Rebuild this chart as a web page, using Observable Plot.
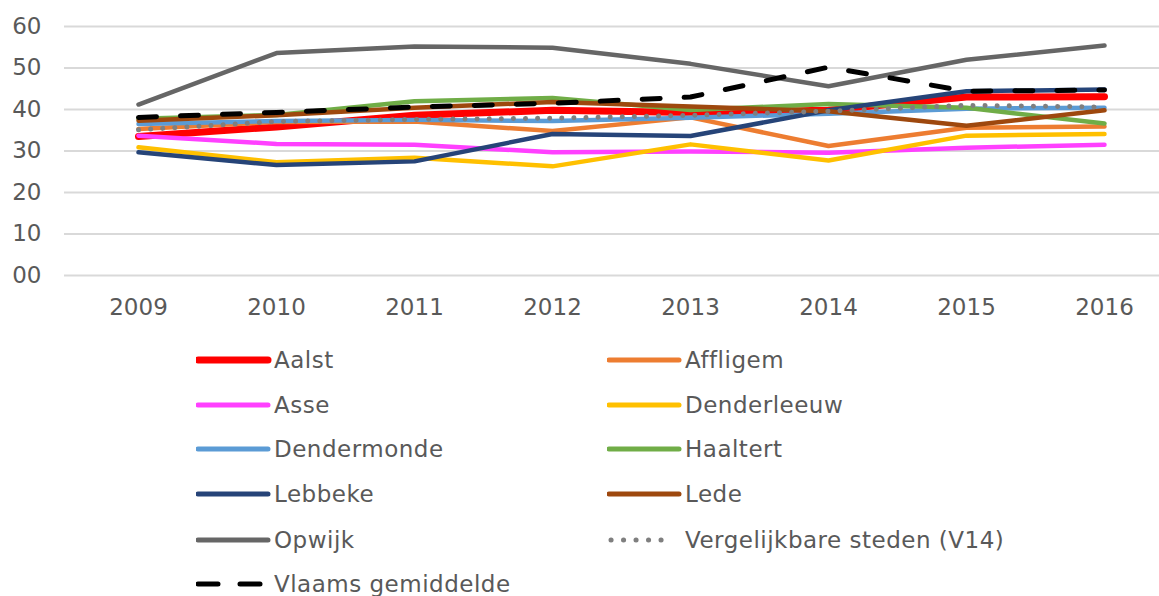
<!DOCTYPE html>
<html>
<head>
<meta charset="utf-8">
<script src="https://cdn.jsdelivr.net/npm/d3@7"></script>
<script src="https://cdn.jsdelivr.net/npm/@observablehq/plot@0.6"></script>
<style>
  html, body { margin: 0; padding: 0; background: #fff; overflow: hidden; }
  body { width: 1159px; height: 596px; position: relative; font-family: "DejaVu Sans", Verdana, sans-serif; }
  #legend { position: absolute; left: 0; top: 0; width: 1159px; height: 596px; pointer-events: none; }
  .item { position: absolute; display: flex; align-items: center; color: #595959; font-size: 23px; letter-spacing: 0.5px; white-space: nowrap; }
  .item svg { margin-right: 2px; }
</style>
</head>
<body>
<div id="chart"></div>
<div id="legend"></div>
<script>
const years = ["2009", "2010", "2011", "2012", "2013", "2014", "2015", "2016"];
const yTicks = [0, 10, 20, 30, 40, 50, 60];

const seriesNames = ["Aalst", "Affligem", "Asse", "Denderleeuw", "Dendermonde", "Haaltert",
  "Lebbeke", "Lede", "Opwijk", "Vergelijkbare steden (V14)", "Vlaams gemiddelde"];

const aalst       = [33.5, 35.8, 38.6, 39.8, 39.3, 39.8, 43.0, 43.1];
const affligem    = [35.3, 37.0, 37.1, 34.8, 38.1, 31.2, 35.6, 35.9];
const asse        = [33.7, 31.7, 31.5, 29.7, 29.9, 29.6, 30.8, 31.5];
const denderleeuw = [30.9, 27.3, 28.4, 26.3, 31.6, 27.7, 33.7, 34.1];
const dendermonde = [36.5, 37.2, 37.5, 37.2, 38.0, 39.0, 40.2, 40.4];
const haaltert    = [37.8, 38.7, 42.0, 42.8, 39.9, 41.3, 40.4, 36.6];
const lebbeke     = [29.7, 26.6, 27.5, 34.1, 33.6, 39.8, 44.4, 44.8];
const lede        = [37.3, 38.6, 40.4, 41.8, 40.7, 39.6, 36.1, 39.8];
const opwijk      = [41.2, 53.6, 55.2, 54.9, 51.0, 45.6, 52.0, 55.4];
const v14         = [35.1, 37.1, 37.6, 37.9, 38.6, 39.6, 41.0, 40.6];
const vlaams      = [38.1, 39.3, 40.6, 41.5, 43.0, 50.2, 44.4, 44.7];

const seriesValues = [aalst, affligem, asse, denderleeuw, dendermonde, haaltert,
  lebbeke, lede, opwijk, v14, vlaams];

const seriesColors = ["#FF0000", "#ED7D31", "#FF40FF", "#FFC000", "#5B9BD5", "#70AD47",
  "#264478", "#9E480E", "#666666", "#7F7F7F", "#000000"];

const styleFor = (name) => {
  if (name === "Aalst") return {w: 7, dash: null};
  if (name === "Vergelijkbare steden (V14)") return {w: 5, dash: "0.1 12"};
  if (name === "Vlaams gemiddelde") return {w: 5, dash: "18 24"};
  return {w: 4.5, dash: null};
};

const rows = [];
seriesNames.forEach((name, i) => {
  years.forEach((yr, j) => rows.push({series: name, year: yr, value: seriesValues[i][j]}));
});

const lineMarks = seriesNames.map((name, i) => {
  const s = styleFor(name);
  return Plot.line(rows.filter(d => d.series === name), {
    x: "year", y: "value",
    stroke: seriesColors[i],
    strokeWidth: s.w,
    strokeDasharray: s.dash,
    strokeLinecap: "round",
    strokeLinejoin: "round"
  });
});

const chart = Plot.plot({
  width: 1159,
  height: 330,
  marginLeft: 64,
  marginRight: 0,
  marginTop: 26,
  marginBottom: 55,
  style: {fontFamily: "'DejaVu Sans', Verdana, sans-serif", fontSize: "23px", color: "#595959", background: "#fff"},
  x: {type: "point", domain: years, range: [135, 1106], padding: 0, label: null},
  y: {domain: [0, 60], label: null},
  marks: [
    Plot.ruleY(yTicks, {stroke: "#D9D9D9", strokeWidth: 2}),
    Plot.axisY({ticks: yTicks, tickSize: 0, tickPadding: 23, tickFormat: d => d === 0 ? "00" : String(d), fill: "#595959", fontSize: 23}),
    Plot.axisX({tickSize: 0, tickPadding: 23, fill: "#595959", fontSize: 23}),
    ...lineMarks
  ]
});
document.getElementById("chart").appendChild(chart);

// Legend
const legend = document.getElementById("legend");
const colX = [196, 607];
const rowY = [360, 405, 449, 494, 540, 584];
seriesNames.forEach((name, i) => {
  const col = i % 2, row = Math.floor(i / 2);
  const item = document.createElement("div");
  item.className = "item";
  item.style.left = colX[col] + "px";
  item.style.top = (rowY[row] - 15) + "px";
  item.style.height = "30px";
  const ns = "http://www.w3.org/2000/svg";
  const svg = document.createElementNS(ns, "svg");
  svg.setAttribute("width", 76);
  svg.setAttribute("height", 30);
  const ln = document.createElementNS(ns, "line");
  let x1 = 2, x2 = 72;
  if (name === "Vergelijkbare steden (V14)") { x1 = 4; x2 = 66; }
  ln.setAttribute("x1", x1); ln.setAttribute("x2", x2);
  ln.setAttribute("y1", 15); ln.setAttribute("y2", 15);
  ln.setAttribute("stroke", seriesColors[i]);
  ln.setAttribute("stroke-width", name === "Aalst" ? 7 : 5);
  ln.setAttribute("stroke-linecap", "round");
  if (name === "Vlaams gemiddelde") ln.setAttribute("stroke-dasharray", "20 22");
  if (name === "Vergelijkbare steden (V14)") ln.setAttribute("stroke-dasharray", "0.1 12.4");
  svg.appendChild(ln);
  item.appendChild(svg);
  const t = document.createElement("span");
  t.textContent = name;
  item.appendChild(t);
  legend.appendChild(item);
});
</script>
</body>
</html>
